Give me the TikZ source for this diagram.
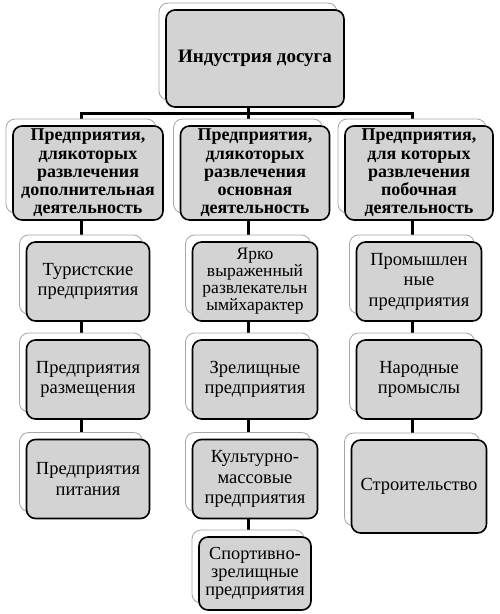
\documentclass[tikz,border=0pt]{standalone}
\usepackage{fontspec}
\setmainfont{Liberation Serif}
\usetikzlibrary{backgrounds}
\definecolor{boxgray}{RGB}{211,211,211}
\newcommand*{\cardbox}[7][lvltwo]{%
  \node[backcard,minimum width=#5pt,minimum height=#6pt] (#2-b) at (#3-7,#4-7) {};
  \node[#1,minimum width=#5pt,minimum height=#6pt] (#2) at (#3,#4) {#7};
}

\begin{document}
\begin{tikzpicture}[x=1pt,y=-1pt,
        backcard/.style={draw=gray!70,fill=white,rounded corners=9pt,line width=0.8pt},
        box/.style={draw=black,fill=boxgray,rounded corners=9pt,line width=1.6pt,align=center,inner sep=1pt},
        topbox/.style={box,font=\fontsize{19}{22}\selectfont\bfseries},
        lvlone/.style={box,font=\fontsize{18}{18.2}\selectfont\bfseries},
        lvltwo/.style={box,font=\fontsize{18.5}{20.5}\selectfont},
        small/.style={box,font=\fontsize{17.5}{17}\selectfont},
        smallish/.style={box,font=\fontsize{18.3}{18}\selectfont},
        link/.style={line width=3pt}]
                \useasboundingbox (0,0) rectangle (499,614);

                \cardbox[topbox]{top}{255}{58.5}{178}{97}{Индустрия досуга}

                \cardbox[lvlone]{dop}{88}{173}{150}{94}{Предприятия,\\длякоторых\\развлечения\\дополнительная\\деятельность}
                \cardbox[lvlone]{osn}{255}{173}{149}{94}{Предприятия,\\длякоторых\\развлечения\\основная\\деятельность}
                \cardbox[lvlone]{pob}{419}{173}{148}{94}{Предприятия,\\для которых\\развлечения\\побочная\\деятельность}

                \cardbox{tur}{88}{281.5}{123}{79}{Туристские\\предприятия}
                \cardbox{raz}{88}{379.5}{123}{79}{Предприятия\\размещения}
                \cardbox{pit}{88}{479}{123}{79}{Предприятия\\питания}

                \cardbox[small]{yar}{255}{281.5}{125}{79}{Ярко\\выраженный\\развлекательн\\ымйхарактер}
                \cardbox{zre}{255}{379.5}{125}{79}{Зрелищные\\предприятия}
                \cardbox{kul}{255}{479}{125}{79}{Культурно-\\массовые\\предприятия}
                \cardbox[smallish]{spo}{255}{573.5}{112}{73}{Спортивно-\\зрелищные\\предприятия}

                \cardbox{pro}{419}{281.5}{125}{79}{Промышлен\\ные\\предприятия}
                \cardbox{nar}{419}{379.5}{125}{79}{Народные\\промыслы}
                \cardbox{str}{419}{486.5}{135}{93}{Строительство}

                \begin{scope}[on background layer]
                \coordinate (bus) at (0,113);
                \foreach \n in {dop,osn,pob}
                    \draw[link] (top-b.center) |- (bus -| \n-b.center) -- (\n-b.center);
                \draw[link] (dop-b.center) -- (tur-b.center) -- (raz-b.center) -- (pit-b.center);
                \draw[link] (osn-b.center) -- (yar-b.center) -- (zre-b.center) -- (kul-b.center) -- (spo-b.center);
                \draw[link] (pob-b.center) -- (pro-b.center) -- (nar-b.center) -- (str-b.center);
                \end{scope}
            \end{tikzpicture}
\end{document}
